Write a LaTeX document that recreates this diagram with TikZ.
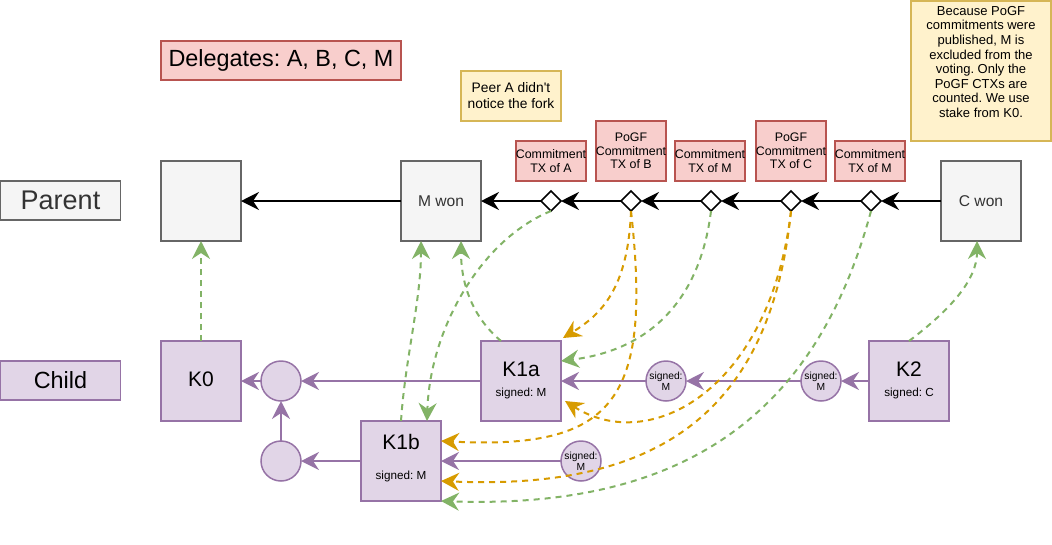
\documentclass[tikz,border=0pt]{standalone}
\usepackage{fontspec}
\setmainfont{Liberation Sans}
\usetikzlibrary{arrows.meta,shapes.geometric}
\definecolor{gfill}{HTML}{F5F5F5}
\definecolor{gline}{HTML}{666666}
\definecolor{gtext}{HTML}{333333}
\definecolor{rfill}{HTML}{F8CECC}
\definecolor{rline}{HTML}{B85450}
\definecolor{yfill}{HTML}{FFF2CC}
\definecolor{yline}{HTML}{D6B656}
\definecolor{pfill}{HTML}{E1D5E7}
\definecolor{pline}{HTML}{9673A6}
\definecolor{grn}{HTML}{82B366}
\definecolor{org}{HTML}{D79B00}
\newcommand\fsz[2]{\fontsize{#1pt}{#2pt}\selectfont}
\frenchspacing
\begin{document}
\begin{tikzpicture}[x=1pt,y=-1pt,
 tip/.style={-{Stealth[length=18pt,width=18pt,inset=6pt]}},
 box/.style={draw, line width=1.5pt, inner sep=0pt, outer sep=0pt, align=center},
 gbox/.style={box, draw=gline, fill=gfill, text=gtext},
 rbox/.style={box, draw=rline, fill=rfill},
 ybox/.style={box, draw=yline, fill=yfill},
 pbox/.style={box, draw=pline, fill=pfill},
 sq/.style={minimum width=80pt, minimum height=80pt},
 pcirc/.style={circle, draw=pline, fill=pfill, line width=1.5pt, minimum size=40pt, inner sep=0pt, outer sep=0pt, align=center, font=\fsz{10.3}{11}},
 dia/.style={diamond, draw=black, fill=white, line width=1.5pt, minimum width=20pt, minimum height=20pt, inner sep=0pt, outer sep=0pt},
 blk/.style={tip, draw=black, line width=2pt},
 pur/.style={tip, draw=pline, line width=2pt},
 gdash/.style={tip, draw=grn, line width=2pt, dash pattern=on 6pt off 5pt},
 odash/.style={tip, draw=org, line width=2pt, dash pattern=on 6pt off 5pt},
 lbl/.style={rbox, minimum width=70pt, font=\fsz{12.4}{13.5}},
 big/.style={inner sep=0pt, font=\fsz{21}{24}},
 small/.style={inner sep=0pt, font=\fsz{11.7}{13}}
]
\useasboundingbox (0,0) rectangle (1052,544);

% left labels
\node[gbox, minimum width=120pt, minimum height=39pt, font=\fsz{27}{30}] (parent) at (60.5,200.5) {Parent};
\node[pbox, minimum width=120pt, minimum height=39pt, font=\fsz{23.4}{27}] (child) at (60.5,380.5) {Child};
\node[rbox, minimum width=240pt, minimum height=39pt, font=\fsz{23.4}{27}] (deleg) at (281,60.5) {Delegates: A, B, C, M};

% parent chain
\node[gbox, sq] (p0) at (201,201) {};
\node[gbox, sq, font=\fsz{15.6}{18}] (mwon) at (441,201) {M won};
\node[gbox, sq, font=\fsz{15.6}{18}] (cwon) at (981,201) {C won};
\node[dia] (d1) at (551,201) {};
\node[dia] (d2) at (631,201) {};
\node[dia] (d3) at (711,201) {};
\node[dia] (d4) at (791,201) {};
\node[dia] (d5) at (871,201) {};

\node[lbl, minimum height=40pt] (la) at (551,161) {Commitment\\TX of A};
\node[lbl, minimum height=60pt] (lb) at (631,151) {PoGF\\Commitment\\TX of B};
\node[lbl, minimum height=40pt] (lm1) at (710,161) {Commitment\\TX of M};
\node[lbl, minimum height=60pt] (lc) at (791,151) {PoGF\\Commitment\\TX of C};
\node[lbl, minimum height=40pt] (lm2) at (870,161) {Commitment\\TX of M};

\node[ybox, minimum width=100pt, minimum height=50pt, font=\fsz{13.8}{16}] (peer) at (511,96) {Peer A didn\textquotesingle t\\notice the fork};
\node[ybox, minimum width=140pt, minimum height=140pt] (note) at (981,71) {};
\node[inner sep=0pt, align=center, font=\fsz{13}{14.6}] (notetext) at (981,62) {Because PoGF\\commitments were\\published, M is\\excluded from the\\voting. Only the\\PoGF CTXs are\\counted. We use\\stake from K0.};

% child chain
\node[pbox, sq] (K0) at (201,381) {};
\node[big] (K0t) at (201,379) {K0};
\node[pcirc] (c1) at (281,381) {};
\node[pbox, sq] (K1a) at (521,381) {};
\node[big] (K1at) at (521,369) {K1a};
\node[small] (K1as) at (521,393) {signed: M};
\node[pcirc] (s1) at (666,381) {signed:\\M};
\node[pcirc] (s2) at (821,381) {signed:\\M};
\node[pbox, sq] (K2) at (909,381) {};
\node[big] (K2t) at (909,369) {K2};
\node[small] (K2s) at (909,393) {signed: C};
\node[pbox, sq] (K1b) at (401,461) {};
\node[big] (K1bt) at (401,442) {K1b};
\node[small] (K1bs) at (401,476) {signed: M};
\node[pcirc] (c2) at (281,461) {};
\node[pcirc] (s3) at (581,461) {signed:\\M};

% black chain arrows
\draw[blk] (cwon.west) -- (d5.east);
\draw[blk] (d5.west) -- (d4.east);
\draw[blk] (d4.west) -- (d3.east);
\draw[blk] (d3.west) -- (d2.east);
\draw[blk] (d2.west) -- (d1.east);
\draw[blk] (d1.west) -- (mwon.east);
\draw[blk] (mwon.west) -- (p0.east);

% purple arrows
\draw[pur] (K2.west) -- (s2.east);
\draw[pur] (s2.west) -- (s1.east);
\draw[pur] (s1.west) -- (K1a.east);
\draw[pur] (K1a.west) -- (c1.east);
\draw[pur] (c1.west) -- (K0.east);
\draw[pur] (c2.north) -- (c1.south);
\draw[pur] (K1b.west) -- (c2.east);
\draw[pur] (s3.west) -- (K1b.east);

% green dashed
\draw[gdash] (K0.north) -- (p0.south);
\draw[gdash] (K1b.north) .. controls (405,360) and (421,300) .. ([xshift=-20pt]mwon.south);
\draw[gdash] ([xshift=-20pt]K1a.north) .. controls (470,315) and (461,280) .. ([xshift=20pt]mwon.south);
\draw[gdash] (d1.south) .. controls (480,240) and (430,330) .. ([xshift=26pt]K1b.north);
\draw[gdash] (d3.south) .. controls (700,300) and (650,350) .. ([yshift=20pt]K1a.east);
\draw[gdash] (d5.south) .. controls (820,400) and (700,510) .. (K1b.south east);
\draw[gdash] (K2.north) .. controls (950,310) and (977,280) .. ([xshift=-4pt]cwon.south);

% orange dashed
\draw[odash] (d2.south) .. controls (628,290) and (600,315) .. ([shift={(2pt,3pt)}]K1a.north east);
\draw[odash] (d2.south) .. controls (652,400) and (615,450) .. ([yshift=20pt]K1b.east);
\draw[odash] (d4.south) .. controls (770,390) and (650,455) .. ([shift={(4pt,-20pt)}]K1a.east);
\draw[odash] (d4.south) .. controls (770,420) and (650,490) .. ([yshift=-20pt]K1b.east);
\end{tikzpicture}
\end{document}
